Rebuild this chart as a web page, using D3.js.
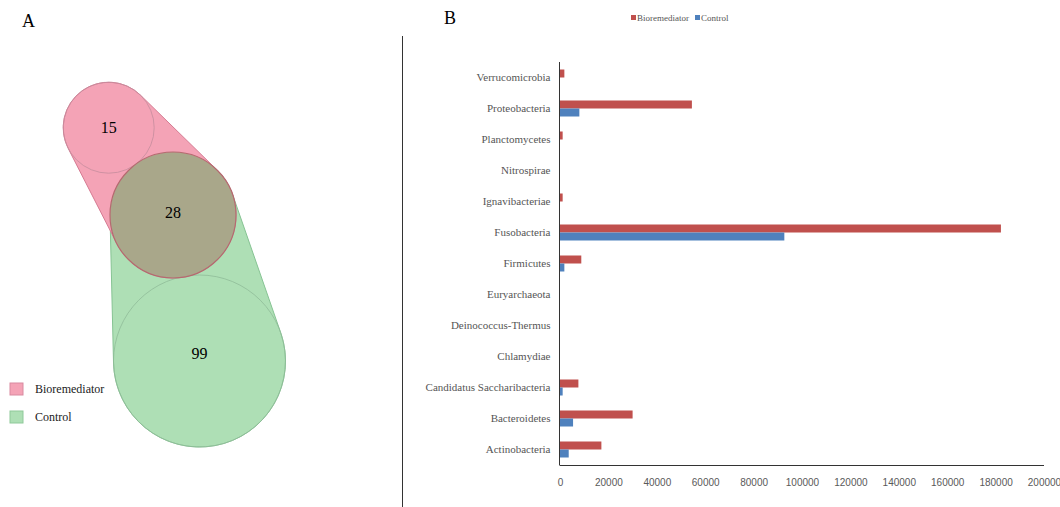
<!DOCTYPE html>
<html>
<head>
<meta charset="utf-8">
<script src="https://cdn.jsdelivr.net/npm/d3@7"></script>
<style>
  body { margin: 0; background: #fff; }
  svg { display: block; }
</style>
</head>
<body>
<div id="chart"></div>
<script>
// ---- data ----
var groups = ["Bioremediator", "Control"];
var vennCounts = [15, 28, 99];           // only Bioremediator, shared, only Control
var phyla = ["Verrucomicrobia", "Proteobacteria", "Planctomycetes", "Nitrospirae",
  "Ignavibacteriae", "Fusobacteria", "Firmicutes", "Euryarchaeota", "Deinococcus-Thermus",
  "Chlamydiae", "Candidatus Saccharibacteria", "Bacteroidetes", "Actinobacteria"];
var bioremediatorVals = [1800, 54500, 1100, 0, 1100, 182200, 8800, 0, 0, 0, 7600, 30000, 17100];
var controlVals = [0, 8000, 0, 0, 0, 92700, 1800, 0, 0, 0, 1100, 5400, 3600];
var xTicks = [0, 20000, 40000, 60000, 80000, 100000, 120000, 140000, 160000, 180000, 200000];

var width = 1060, height = 507;
var serif = "'Liberation Serif', 'Times New Roman', serif";
var sans = "'Liberation Sans', Arial, sans-serif";

var svg = d3.select("#chart").append("svg")
    .attr("width", width)
    .attr("height", height);

// ================= Panel A : Venn =================
// circle layout (px) for the three regions
var vennCircles = [
  {cx: 108.7, cy: 127.7, r: 45.5, dy: 0},
  {cx: 173, cy: 215, r: 63, dy: -3},
  {cx: 199.5, cy: 361, r: 86, dy: -8}
];
var pink = "#f4a3b6", green = "#aedfb5", olive = "#a9a78a";

// path around two circles (convex hull)
function hullPath(a, b) {
  var dx = b.cx - a.cx, dy = b.cy - a.cy;
  var d = Math.sqrt(dx * dx + dy * dy);
  var th = Math.atan2(dy, dx);
  var al = Math.acos((a.r - b.r) / d);
  function pt(c, ang) { return [c.cx + c.r * Math.cos(ang), c.cy + c.r * Math.sin(ang)]; }
  var a1 = pt(a, th + al), b1 = pt(b, th + al), b2 = pt(b, th - al), a2 = pt(a, th - al);
  var bigB = 2 * al > Math.PI ? 1 : 0;
  var bigA = 2 * al > Math.PI ? 0 : 1;
  return "M" + a1 + "L" + b1 +
    "A" + b.r + "," + b.r + " 0 " + bigB + " 0 " + b2 +
    "L" + a2 +
    "A" + a.r + "," + a.r + " 0 " + bigA + " 0 " + a1 + "Z";
}

var venn = svg.append("g");
venn.append("path")
    .attr("d", hullPath(vennCircles[1], vennCircles[2]))
    .attr("fill", green)
    .attr("stroke", "#86c393")
    .attr("stroke-width", 1);
venn.append("path")
    .attr("d", hullPath(vennCircles[0], vennCircles[1]))
    .attr("fill", pink)
    .attr("stroke", "#d57b92")
    .attr("stroke-width", 1);
venn.append("circle")
    .attr("cx", vennCircles[0].cx).attr("cy", vennCircles[0].cy).attr("r", vennCircles[0].r)
    .attr("fill", "none").attr("stroke", "#c58d9d").attr("stroke-width", 0.8);
venn.append("circle")
    .attr("cx", vennCircles[2].cx).attr("cy", vennCircles[2].cy).attr("r", vennCircles[2].r)
    .attr("fill", "none").attr("stroke", "#8fbb98").attr("stroke-width", 0.8);
venn.append("circle")
    .attr("cx", vennCircles[1].cx).attr("cy", vennCircles[1].cy).attr("r", vennCircles[1].r)
    .attr("fill", olive).attr("stroke", "#b56a70").attr("stroke-width", 1.2);

venn.selectAll("text.count")
  .data(vennCounts)
  .enter().append("text")
    .attr("class", "count")
    .attr("x", function(d, i) { return vennCircles[i].cx; })
    .attr("y", function(d, i) { return vennCircles[i].cy + vennCircles[i].dy; })
    .attr("dy", "0.35em")
    .attr("text-anchor", "middle")
    .style("font-family", serif)
    .style("font-size", "16px")
    .text(function(d) { return d; });

// legend A
var legA = svg.append("g").attr("transform", "translate(10,383)");
legA.selectAll("g")
  .data(groups)
  .enter().append("g")
    .attr("transform", function(d, i) { return "translate(0," + (i * 28) + ")"; })
    .each(function(d, i) {
      var g = d3.select(this);
      g.append("rect")
        .attr("width", 13).attr("height", 12)
        .attr("fill", i == 0 ? pink : green)
        .attr("stroke", i == 0 ? "#d98aa0" : "#8fc99a");
      g.append("text")
        .attr("x", 25).attr("y", 10)
        .style("font-family", serif)
        .style("font-size", "12px")
        .attr("fill", "#222")
        .text(d);
    });

svg.append("text").attr("x", 22).attr("y", 27)
    .style("font-family", serif).style("font-size", "18px").text("A");
svg.append("text").attr("x", 444).attr("y", 24)
    .style("font-family", serif).style("font-size", "18px").text("B");

// separator line
svg.append("line")
    .attr("x1", 402.5).attr("x2", 402.5)
    .attr("y1", 36).attr("y2", height)
    .attr("stroke", "#333").attr("stroke-width", 1);

// ================= Panel B : bars =================
var x = d3.scaleLinear().domain([0, 200000]).range([560, 1044]);
var y = d3.scaleBand().domain(phyla).range([62, 465]);
var barH = 16;
var ySub = d3.scaleBand().domain(groups).range([0, barH]);
var colors = d3.scaleOrdinal().domain(groups).range(["#c0504d", "#4f81bd"]);

var rows = phyla.map(function(p, i) {
  return {name: p, vals: [bioremediatorVals[i], controlVals[i]]};
});

var rowG = svg.selectAll("g.row")
  .data(rows)
  .enter().append("g")
    .attr("class", "row")
    .attr("transform", function(d) {
      return "translate(0," + (y(d.name) + (y.bandwidth() - barH) / 2) + ")";
    });

rowG.selectAll("rect")
  .data(function(d) { return d.vals.map(function(v, j) { return {g: groups[j], v: v}; }); })
  .enter().append("rect")
    .attr("x", x(0))
    .attr("y", function(d) { return ySub(d.g); })
    .attr("width", function(d) { return x(d.v) - x(0); })
    .attr("height", ySub.bandwidth())
    .attr("fill", function(d) { return colors(d.g); });

// y axis
var yAxis = svg.append("g")
    .attr("transform", "translate(559.5,0)")
    .call(d3.axisLeft(y).tickSize(0).tickPadding(9));
yAxis.select(".domain").attr("stroke", "#333").attr("d", "M0,62V465");
yAxis.selectAll("text")
    .style("font-family", serif)
    .style("font-size", "11px")
    .attr("fill", "#555");

// x axis
var xAxis = svg.append("g")
    .attr("transform", "translate(0,465.5)")
    .call(d3.axisBottom(x).tickValues(xTicks).tickSize(0).tickPadding(13).tickFormat(d3.format("d")));
xAxis.select(".domain").attr("stroke", "#333").attr("d", "M559.5,0H1044");
xAxis.selectAll("text")
    .style("font-family", sans)
    .style("font-size", "10px")
    .attr("fill", "#595959");

// legend B
var legB = svg.append("g").attr("transform", "translate(631,18)");
var legX = [0, 64];
legB.selectAll("g")
  .data(groups)
  .enter().append("g")
    .attr("transform", function(d, i) { return "translate(" + legX[i] + ",0)"; })
    .each(function(d) {
      var g = d3.select(this);
      g.append("rect").attr("x", 0).attr("y", -3).attr("width", 5).attr("height", 5)
        .attr("fill", colors(d));
      g.append("text").attr("x", 6).attr("y", 0).attr("dy", "0.35em")
        .style("font-family", serif).style("font-size", "9px")
        .attr("fill", "#555")
        .text(d);
    });
</script>
</body>
</html>
